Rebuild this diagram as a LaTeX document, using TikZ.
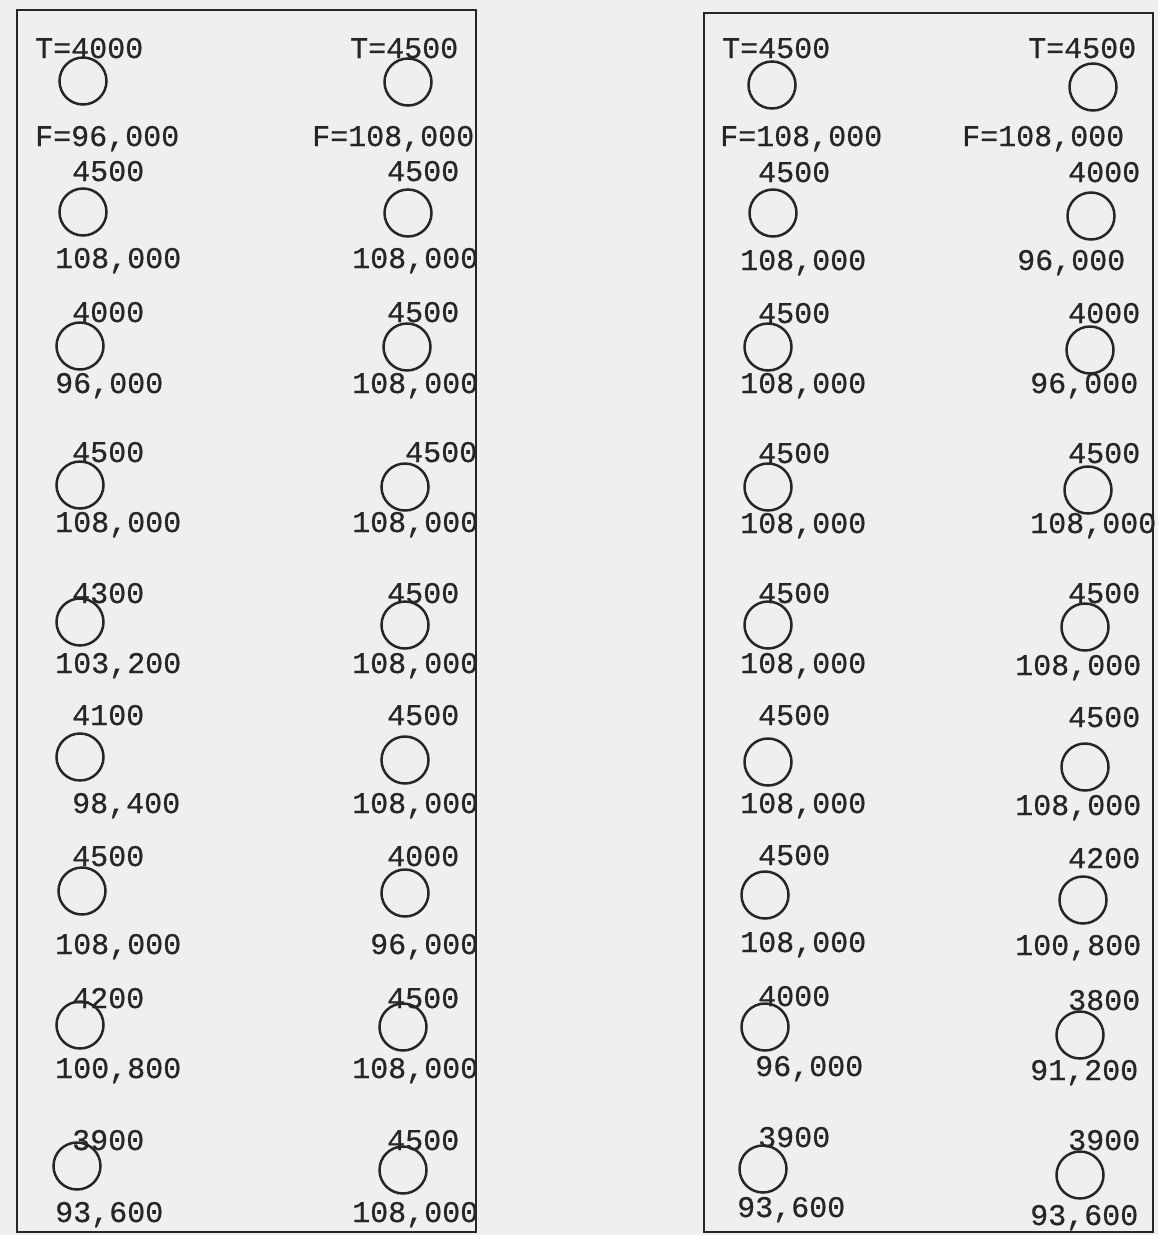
\documentclass[tikz,border=0pt]{standalone}
\usepackage{fontspec}
\newfontfamily\typew{Liberation Mono}[FakeBold=0.6]
\definecolor{paper}{RGB}{239,239,239}
\definecolor{ink}{RGB}{38,38,38}
\tikzset{
  txt/.style={anchor=base west, inner sep=0pt, font=\typew\fontsize{30}{30}\selectfont, text=ink},
  ring/.style={circle, draw=ink, line width=2.5pt, minimum size=47pt, inner sep=0pt},
  frame/.style={draw=ink, line width=2.4pt}
}
\newcommand\mylbl[4]{\node[txt] (#1) at (#2,#3) {#4};}
\newcommand\myring[3]{\node[ring] (#1) at (#2,#3) {};}
\begin{document}
\begin{tikzpicture}[x=1pt,y=-1pt]
\fill[paper] (0,0) rectangle (1158,1235);
\useasboundingbox (0,0) rectangle (1158,1235);
% frames
\draw[frame] (17,10) rectangle (476,1232);
\draw[frame] (704,13) rectangle (1153,1232);
% ---------- column A ----------
\mylbl{tA1}{35}{58}{T=4000}   \myring{cA1}{83}{81}   \mylbl{fA1}{35}{146}{F=96,000}
\mylbl{tA2}{72}{181}{4500}    \myring{cA2}{83}{212}  \mylbl{fA2}{55}{268}{108,000}
\mylbl{tA3}{72}{322}{4000}    \myring{cA3}{80}{346}  \mylbl{fA3}{55}{393}{96,000}
\mylbl{tA4}{72}{462}{4500}    \myring{cA4}{80}{485}  \mylbl{fA4}{55}{532}{108,000}
\mylbl{tA5}{72}{603}{4300}    \myring{cA5}{80}{622}  \mylbl{fA5}{55}{673}{103,200}
\mylbl{tA6}{72}{725}{4100}    \myring{cA6}{80}{757}  \mylbl{fA6}{72}{813}{98,400}
\mylbl{tA7}{72}{866}{4500}    \myring{cA7}{82}{891}  \mylbl{fA7}{55}{954}{108,000}
\mylbl{tA8}{72}{1008}{4200}   \myring{cA8}{80}{1025} \mylbl{fA8}{55}{1078}{100,800}
\mylbl{tA9}{72}{1150}{3900}   \myring{cA9}{77}{1166} \mylbl{fA9}{55}{1222}{93,600}
% ---------- column B ----------
\mylbl{tB1}{350}{58}{T=4500}  \myring{cB1}{408}{82}  \mylbl{fB1}{312}{146}{F=108,000}
\mylbl{tB2}{387}{181}{4500}   \myring{cB2}{408}{213} \mylbl{fB2}{352}{268}{108,000}
\mylbl{tB3}{387}{322}{4500}   \myring{cB3}{407}{347} \mylbl{fB3}{352}{393}{108,000}
\mylbl{tB4}{405}{462}{4500}   \myring{cB4}{405}{487} \mylbl{fB4}{352}{532}{108,000}
\mylbl{tB5}{387}{603}{4500}   \myring{cB5}{405}{625} \mylbl{fB5}{352}{673}{108,000}
\mylbl{tB6}{387}{725}{4500}   \myring{cB6}{405}{760} \mylbl{fB6}{352}{813}{108,000}
\mylbl{tB7}{387}{866}{4000}   \myring{cB7}{405}{893} \mylbl{fB7}{370}{954}{96,000}
\mylbl{tB8}{387}{1008}{4500}  \myring{cB8}{403}{1027}\mylbl{fB8}{352}{1078}{108,000}
\mylbl{tB9}{387}{1150}{4500}  \myring{cB9}{403}{1170}\mylbl{fB9}{352}{1222}{108,000}
% ---------- column C ----------
\mylbl{tC1}{722}{58}{T=4500}  \myring{cC1}{772}{85}  \mylbl{fC1}{720}{146}{F=108,000}
\mylbl{tC2}{758}{182}{4500}   \myring{cC2}{773}{213} \mylbl{fC2}{740}{270}{108,000}
\mylbl{tC3}{758}{323}{4500}   \myring{cC3}{768}{347} \mylbl{fC3}{740}{393}{108,000}
\mylbl{tC4}{758}{463}{4500}   \myring{cC4}{768}{487} \mylbl{fC4}{740}{533}{108,000}
\mylbl{tC5}{758}{603}{4500}   \myring{cC5}{768}{625} \mylbl{fC5}{740}{673}{108,000}
\mylbl{tC6}{758}{725}{4500}   \myring{cC6}{768}{762} \mylbl{fC6}{740}{813}{108,000}
\mylbl{tC7}{758}{865}{4500}   \myring{cC7}{765}{895} \mylbl{fC7}{740}{952}{108,000}
\mylbl{tC8}{758}{1006}{4000}  \myring{cC8}{765}{1027}\mylbl{fC8}{755}{1076}{96,000}
\mylbl{tC9}{758}{1147}{3900}  \myring{cC9}{763}{1169}\mylbl{fC9}{737}{1217}{93,600}
% ---------- column D ----------
\mylbl{tD1}{1028}{58}{T=4500} \myring{cD1}{1093}{87} \mylbl{fD1}{962}{146}{F=108,000}
\mylbl{tD2}{1068}{182}{4000}  \myring{cD2}{1091}{216}\mylbl{fD2}{1017}{270}{96,000}
\mylbl{tD3}{1068}{323}{4000}  \myring{cD3}{1090}{350}\mylbl{fD3}{1030}{393}{96,000}
\mylbl{tD4}{1068}{463}{4500}  \myring{cD4}{1088}{490}\mylbl{fD4}{1030}{533}{108,000}
\mylbl{tD5}{1068}{603}{4500}  \myring{cD5}{1085}{627}\mylbl{fD5}{1015}{675}{108,000}
\mylbl{tD6}{1068}{727}{4500}  \myring{cD6}{1085}{767}\mylbl{fD6}{1015}{815}{108,000}
\mylbl{tD7}{1068}{868}{4200}  \myring{cD7}{1083}{900}\mylbl{fD7}{1015}{955}{100,800}
\mylbl{tD8}{1068}{1010}{3800} \myring{cD8}{1080}{1035}\mylbl{fD8}{1030}{1080}{91,200}
\mylbl{tD9}{1068}{1150}{3900} \myring{cD9}{1080}{1175}\mylbl{fD9}{1030}{1225}{93,600}
\end{tikzpicture}
\end{document}
